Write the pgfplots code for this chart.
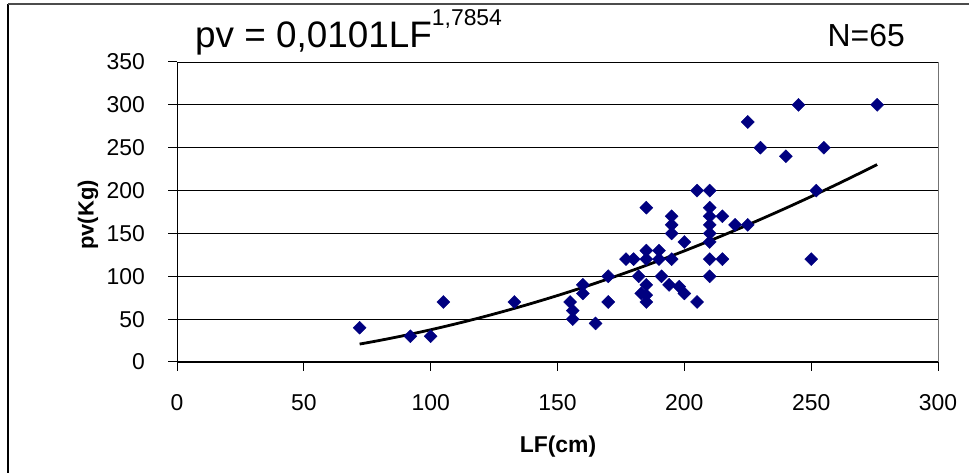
\documentclass[border=0pt]{standalone}
\usepackage{pgfplots}
\pgfplotsset{compat=1.18}
\usepackage{fontspec}
\setmainfont{Liberation Sans}
\definecolor{navy}{HTML}{000080}
\begin{document}
\begin{tikzpicture}[x=1bp,y=1bp]
\useasboundingbox (0,0) rectangle (969,473);
\draw[black, line width=1.5bp] (8,0) -- (8,469);
\draw[black!70, line width=1.5bp] (8,469) -- (969,469);
\begin{axis}[
  at={(177bp,111bp)}, anchor=south west,
  scale only axis, width=761bp, height=300bp,
  xmin=0, xmax=300, ymin=0, ymax=350,
  xtick={0,50,...,300}, ytick={0,50,...,350},
  axis x line*=bottom, axis y line*=left,
  axis line style={black, line width=1bp},
  ymajorgrids, grid style={black, line width=0.8bp},
  tick align=outside, major tick length=9bp,
  tick style={black, line width=1bp},
  /pgf/number format/assume math mode=true,
  ticklabel style={font=\fontsize{23}{26}\selectfont, inner sep=0pt},
  xticklabel style={anchor=base, yshift=-40bp},
  yticklabel style={anchor=east, xshift=-23bp},
  x tick label style={/pgf/number format/1000 sep={}},
  clip=false,
]
\addplot[only marks, mark=square*, mark size=4.6bp, mark options={rotate=45, fill=navy, draw=navy}] coordinates {
(72,40) (92,30) (100,30) (105,70) (133,70) (155,70) (156,60) (156,50)
(160,90) (160,80) (165,45) (170,100) (170,70) (177,120) (180,120) (182,100)
(183,80) (185,180) (185,130) (185,120) (185,90) (185,70) (185,78) (190,130)
(190,120) (191,100) (194,90) (195,170) (195,160) (195,150) (195,120) (198,88)
(200,140) (200,80) (205,200) (205,70) (210,200) (210,180) (210,170) (210,160)
(210,150) (210,140) (210,120) (210,100) (215,170) (215,120) (220,160) (225,160)
(225,280) (230,250) (240,240) (245,300) (250,120) (252,200) (255,250) (276,300)
};
\addplot[black, line width=2.8bp, smooth] coordinates {
(72,20.91) (80,25.24) (90,31.15) (100,37.60) (110,44.58) (120,52.05) (130,60.06)
(140,68.56) (150,77.54) (160,87.02) (170,96.97) (180,107.38) (190,118.26)
(200,129.60) (210,141.40) (220,153.66) (230,166.38) (240,179.49) (250,193.06)
(260,207.05) (270,221.49) (276,230.37)
};
\draw[black!55, line width=1bp] (rel axis cs:1,0) -- (rel axis cs:1,1);
\end{axis}
\node[anchor=base west, inner sep=0pt, font=\fontsize{37}{40}\selectfont] at (195,425) {pv = 0,0101LF\raisebox{22bp}{\fontsize{23}{25}\selectfont 1,7854}};
\node[anchor=base east, inner sep=0pt, font=\fontsize{32}{35}\selectfont] at (905,426) {N=65};
\node[rotate=90, inner sep=0pt, font=\bfseries\fontsize{22}{24}\selectfont] at (88,258) {pv(Kg)};
\node[inner sep=0pt, font=\bfseries\fontsize{23}{25}\selectfont] at (558,26) {LF(cm)};
\end{tikzpicture}
\end{document}
